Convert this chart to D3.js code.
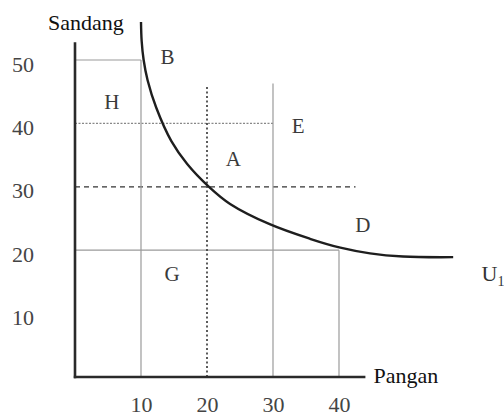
<!DOCTYPE html>
<html>
<head>
<meta charset="utf-8">
<script src="https://cdn.jsdelivr.net/npm/d3@7"></script>
<style>
  html, body { margin: 0; padding: 0; background: #fff; }
  svg { display: block; }
  text { font-family: "Liberation Serif", "Times New Roman", serif; }
</style>
</head>
<body>
<svg id="chart" width="504" height="417"></svg>
<script>
// ---- data ----
const xTicks = [10, 20, 30, 40];
const yTicks = [10, 20, 30, 40, 50];
const xAxisLabel = "Pangan";
const yAxisLabel = "Sandang";
// indifference curve U1 (Pangan, Sandang)
const curveX = [10.0, 10.1, 10.4, 11.0, 12.3, 14.6, 17.0, 20.3, 23.5, 29.5, 35.6, 40.2, 44.7, 49.7, 57.3];
const curveY = [56.0, 53.0, 50.0, 46.8, 42.5, 37.2, 33.6, 30.0, 27.3, 24.1, 21.8, 20.4, 19.5, 19.0, 18.9];
// reference lines: [x1, y1, x2, y2, style]
const refLines = [
  [0, 50, 10, 50, "solid"],
  [0, 40, 30, 40, "dotted"],
  [0, 30, 42.5, 30, "dashed"],
  [0, 20, 40, 20, "solid"],
  [10, 0, 10, 50, "solid"],
  [20, 0, 20, 46, "dottedDark"],
  [30, 0, 30, 46.3, "solid"],
  [40, 0, 40, 20, "solid"]
];
// region labels
const regionNames = ["B", "H", "E", "A", "D", "G"];
const regionX = [14.0, 5.6, 33.8, 24.0, 43.6, 14.7];
const regionY = [50.5, 43.5, 39.7, 34.5, 24.0, 16.3];
const curveLabel = "U";
const curveLabelSub = "1";
const curveLabelPos = [61.6, 16.3];

// ---- scales ----
const svg = d3.select("#chart");
const x = d3.scaleLinear().domain([0, 40]).range([75, 339]);
const y = d3.scaleLinear().domain([0, 50]).range([377, 60]);

// reference lines
const styles = {
  solid: { stroke: "#9a9a9a", dash: null, w: 1.2 },
  dotted: { stroke: "#888", dash: "2,1.5", w: 1.3 },
  dashed: { stroke: "#333", dash: "5,4", w: 1.3 },
  dottedDark: { stroke: "#333", dash: "2,2.5", w: 1.6 }
};
svg.append("g").selectAll("line").data(refLines).join("line")
  .attr("x1", d => x(d[0])).attr("y1", d => y(d[1]))
  .attr("x2", d => x(d[2])).attr("y2", d => y(d[3]))
  .attr("stroke", d => styles[d[4]].stroke)
  .attr("stroke-width", d => styles[d[4]].w)
  .attr("stroke-dasharray", d => styles[d[4]].dash);

// axes
const xAxis = d3.axisBottom(x).tickValues(xTicks).tickSize(0).tickPadding(19);
const gx = svg.append("g").attr("transform", `translate(0,${y(0)})`).call(xAxis);
gx.select(".domain").remove();
gx.selectAll("text").attr("font-size", 22).attr("fill", "#444")
  .style("font-family", "'Liberation Serif', serif").attr("dy", "0.71em");

const yAxis = d3.axisLeft(y).tickValues(yTicks).tickSize(0).tickPadding(40);
const gy = svg.append("g").attr("transform", `translate(${x(0)},0)`).call(yAxis);
gy.select(".domain").remove();
gy.selectAll("text").attr("font-size", 22).attr("fill", "#444")
  .attr("text-anchor", "start").attr("dx", -23)
  .style("font-family", "'Liberation Serif', serif").attr("dy", "0.5em");

// axis lines
svg.append("line").attr("x1", x(0)).attr("y1", y(52.8)).attr("x2", x(0)).attr("y2", y(0) + 1.2)
  .attr("stroke", "#2a2a2a").attr("stroke-width", 2.6);
svg.append("line").attr("x1", x(0) - 1.2).attr("y1", y(0)).attr("x2", x(44)).attr("y2", y(0))
  .attr("stroke", "#2a2a2a").attr("stroke-width", 2.6);

// curve
const pts = curveX.map((v, i) => [v, curveY[i]]);
svg.append("path").datum(pts)
  .attr("d", d3.line().x(d => x(d[0])).y(d => y(d[1])).curve(d3.curveCatmullRom.alpha(0.5)))
  .attr("fill", "none").attr("stroke", "#1e1e1e").attr("stroke-width", 2.4);

// axis titles
svg.append("text").attr("x", 48).attr("y", 30).attr("font-size", 22).attr("fill", "#111").text(yAxisLabel);
svg.append("text").attr("x", x(44) + 8).attr("y", y(0) + 6).attr("font-size", 22).attr("fill", "#111").text(xAxisLabel);

// region labels
svg.append("g").selectAll("text").data(regionNames).join("text")
  .attr("x", (d, i) => x(regionX[i])).attr("y", (d, i) => y(regionY[i]))
  .attr("text-anchor", "middle").attr("dy", "0.35em")
  .attr("font-size", 21).attr("fill", "#3a3a3a")
  .text(d => d);

// curve label
const ul = svg.append("text").attr("x", x(curveLabelPos[0])).attr("y", y(curveLabelPos[1]))
  .attr("dy", "0.35em").attr("font-size", 22).attr("fill", "#333");
ul.append("tspan").text(curveLabel);
ul.append("tspan").attr("font-size", 14).attr("dy", 5).text(curveLabelSub);
</script>
</body>
</html>
